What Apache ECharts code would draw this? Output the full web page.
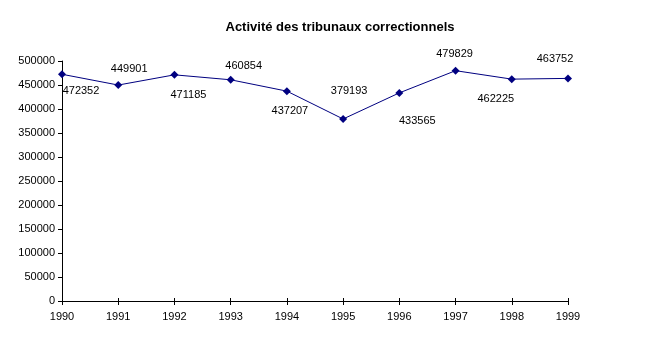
<!DOCTYPE html>
<html>
<head>
<meta charset="utf-8">
<script src="https://cdn.jsdelivr.net/npm/echarts@6/dist/echarts.min.js"></script>
<style>
html,body{margin:0;padding:0;background:#fff;}
#chart{width:671px;height:344px;}
</style>
</head>
<body>
<div id="chart"></div>
<script>
const years = ['1990','1991','1992','1993','1994','1995','1996','1997','1998','1999'];
const activite = [472352, 449901, 471185, 460854, 437207, 379193, 433565, 479829, 462225, 463752];
const yTicks = {min: 0, max: 500000, interval: 50000};
// label offsets (styling only), px relative to point
const labelOffsets = [[19,17],[11,-16],[14,20],[13,-14],[3,20],[6,-28],[18,28],[-1,-17],[-16,20],[-13,-19]];

const chart = echarts.init(document.getElementById('chart'));
const font = 'Liberation Sans, Arial, sans-serif';
chart.setOption({
  backgroundColor: '#ffffff',
  animation: false,
  title: {
    text: 'Activité des tribunaux correctionnels',
    left: 335, top: 16, textAlign: 'center',
    textStyle: {fontFamily: font, fontSize: 13, fontWeight: 'bold', color: '#000'}
  },
  grid: {left: 62, right: 103, top: 61, bottom: 43, containLabel: false},
  xAxis: [{
    type: 'category', data: years, boundaryGap: false,
    axisLine: {lineStyle: {color: '#000', width: 1}},
    axisTick: {show: true, length: 4, lineStyle: {color: '#000'}},
    axisLabel: {fontFamily: font, fontSize: 11, color: '#000', margin: 10}
  },{
    type: 'category', data: years, boundaryGap: false, position: 'bottom',
    axisLine: {show: false},
    axisTick: {show: true, inside: true, length: 3, lineStyle: {color: '#000'}},
    axisLabel: {show: false}
  }],
  yAxis: {
    type: 'value', min: yTicks.min, max: yTicks.max, interval: yTicks.interval,
    axisLine: {show: true, lineStyle: {color: '#000', width: 1}},
    axisTick: {show: true, length: 4, lineStyle: {color: '#000'}},
    splitLine: {show: false},
    axisLabel: {fontFamily: font, fontSize: 11, color: '#000', margin: 7,
      formatter: v => String(v)}
  },
  series: [{
    type: 'line',
    data: activite.map((v, i) => ({
      value: v,
      label: {offset: labelOffsets[i]}
    })),
    symbol: 'diamond', symbolSize: 8,
    lineStyle: {color: '#000080', width: 1},
    itemStyle: {color: '#000080'},
    label: {
      show: true, position: 'inside', align: 'center', verticalAlign: 'middle',
      fontFamily: font, fontSize: 11, color: '#000'
    }
  }]
});
</script>
</body>
</html>
